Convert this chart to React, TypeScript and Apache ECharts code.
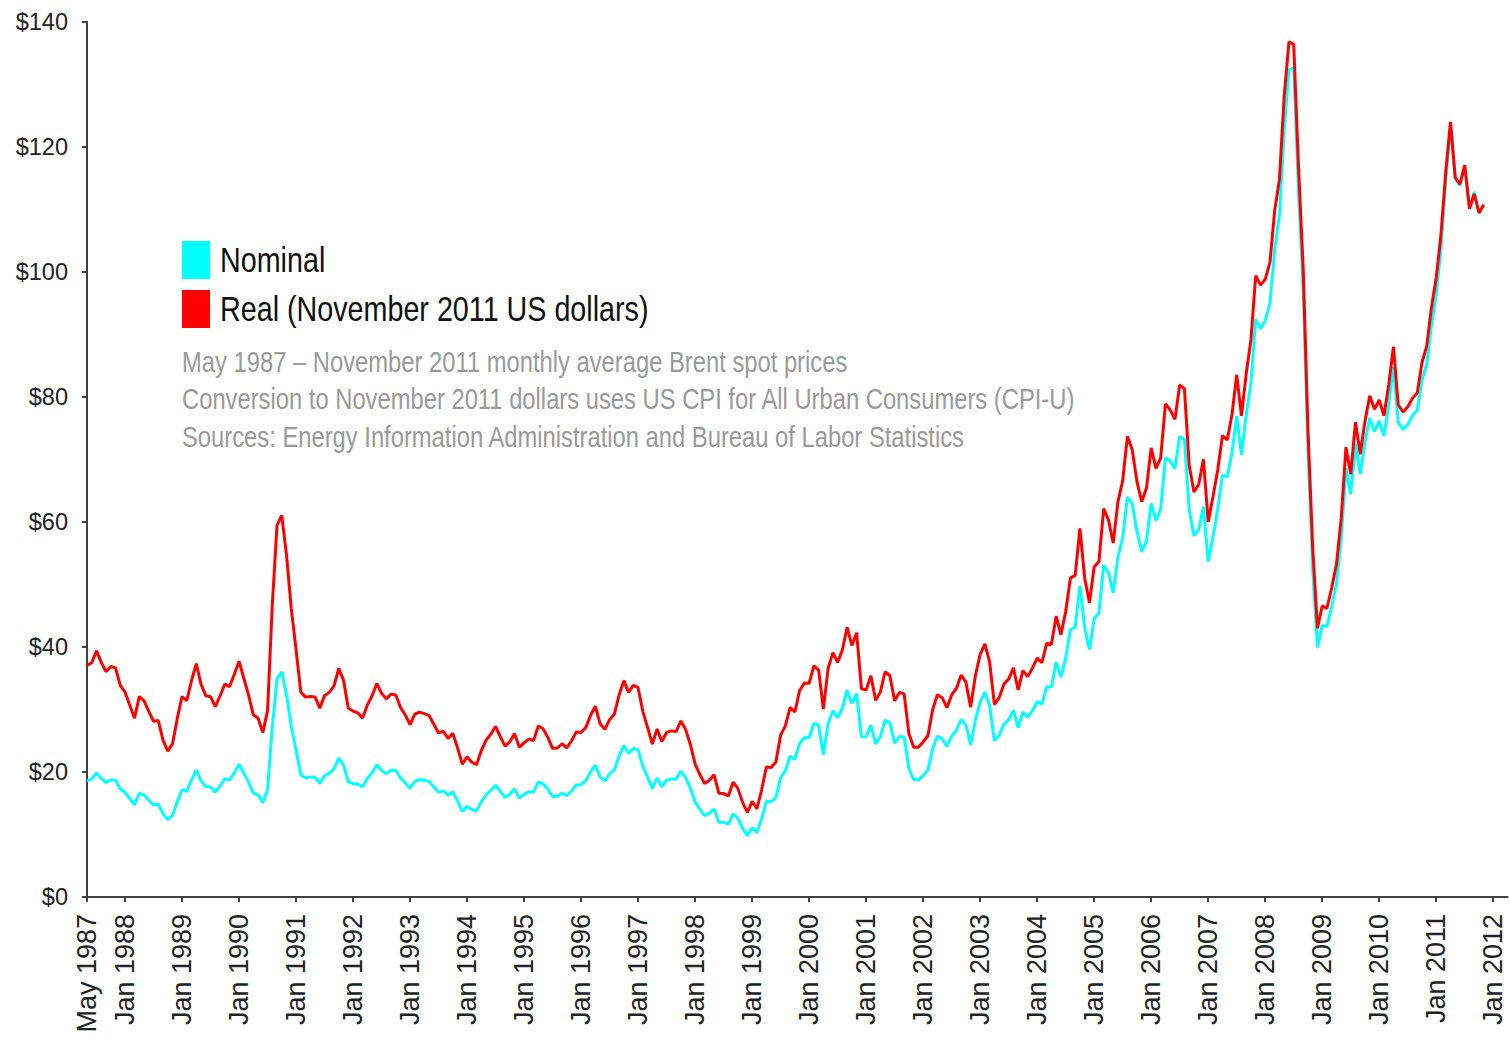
import React, { useEffect, useRef } from "react";
import * as echarts from "echarts";

const MONTHS = ["Jan","Feb","Mar","Apr","May","Jun","Jul","Aug","Sep","Oct","Nov","Dec"];
const START_YEAR = 1987;
const START_MONTH = 4; // May
const CATEGORY_COUNT = 300;

// Nominal Brent monthly average, USD/bbl (May 1987 – Nov 2011)
const nominal1987 = [18.58, 18.86, 19.86, 18.98, 18.31, 18.76, 18.70, 17.27];
const nominal1988 = [16.76, 15.73, 14.73, 16.60, 16.31, 15.49, 14.73, 14.85, 13.30, 12.40, 13.02, 15.22];
const nominal1989 = [17.17, 16.89, 18.70, 20.32, 18.63, 17.67, 17.62, 16.77, 17.77, 18.91, 18.73, 19.84];
const nominal1990 = [21.25, 19.81, 18.39, 16.61, 16.35, 15.10, 17.17, 27.17, 34.90, 36.02, 32.32, 27.28];
const nominal1991 = [23.57, 19.54, 19.08, 19.18, 19.19, 18.17, 19.40, 19.77, 20.50, 22.21, 21.11, 18.41];
const nominal1992 = [18.16, 18.05, 17.63, 18.92, 19.89, 21.16, 20.25, 19.74, 20.27, 20.26, 19.04, 18.26];
const nominal1993 = [17.40, 18.50, 18.79, 18.67, 18.50, 17.64, 16.75, 16.98, 16.28, 16.86, 15.37, 13.68];
const nominal1994 = [14.50, 13.99, 13.77, 15.27, 16.35, 17.04, 17.90, 16.89, 15.94, 16.41, 17.30, 15.85];
const nominal1995 = [16.39, 16.86, 16.77, 18.38, 18.12, 17.22, 16.04, 16.11, 16.60, 16.20, 16.97, 17.92];
const nominal1996 = [17.97, 18.59, 20.01, 21.09, 19.19, 18.58, 19.69, 20.33, 22.54, 24.22, 22.96, 23.76];
const nominal1997 = [23.55, 20.94, 19.19, 17.34, 19.03, 17.64, 18.68, 18.89, 18.86, 20.12, 19.14, 17.40];
const nominal1998 = [15.20, 14.02, 13.02, 13.43, 14.07, 11.95, 11.94, 11.67, 13.28, 12.60, 10.98, 9.82];
const nominal1999 = [11.12, 10.27, 12.51, 15.29, 15.23, 15.86, 19.08, 20.22, 22.54, 22.01, 24.59, 25.47];
const nominal2000 = [25.51, 27.78, 27.49, 22.76, 27.74, 29.80, 28.68, 30.20, 33.14, 30.96, 32.55, 25.66];
const nominal2001 = [25.62, 27.50, 24.50, 25.66, 28.31, 27.85, 24.61, 25.68, 25.62, 20.54, 18.80, 18.71];
const nominal2002 = [19.42, 20.28, 23.70, 25.73, 25.35, 24.08, 25.74, 26.65, 28.40, 27.54, 24.34, 28.33];
const nominal2003 = [31.18, 32.77, 30.61, 25.00, 25.86, 27.65, 28.35, 29.89, 27.11, 29.61, 28.75, 29.81];
const nominal2004 = [31.28, 30.86, 33.63, 33.59, 37.57, 35.18, 38.22, 42.74, 43.20, 49.78, 43.11, 39.60];
const nominal2005 = [44.51, 45.48, 53.10, 51.88, 48.65, 54.35, 57.52, 63.98, 62.91, 58.54, 55.24, 56.86];
const nominal2006 = [62.99, 60.21, 62.06, 70.26, 69.78, 68.56, 73.67, 73.23, 61.96, 57.81, 58.76, 62.47];
const nominal2007 = [53.68, 57.56, 62.05, 67.49, 67.21, 71.05, 76.93, 70.76, 77.17, 82.34, 92.41, 90.93];
const nominal2008 = [92.18, 94.99, 103.64, 109.07, 122.80, 132.32, 132.72, 113.24, 97.23, 71.58, 52.45, 39.95];
const nominal2009 = [43.44, 43.32, 46.54, 50.18, 57.30, 68.61, 64.44, 72.51, 67.65, 72.77, 76.66, 74.46];
const nominal2010 = [76.17, 73.75, 78.83, 84.82, 75.95, 74.76, 75.58, 77.04, 77.84, 82.67, 85.28, 91.45];
const nominal2011 = [96.52, 103.72, 114.64, 123.26, 114.99, 113.83, 116.97, 110.22, 112.83, 109.55, 110.77];

// Real (November 2011 US dollars)
const real1987 = [37.03, 37.49, 39.38, 37.54, 36.05, 36.88, 36.65, 33.85];
const real1988 = [32.77, 30.67, 28.61, 32.07, 31.40, 29.69, 28.12, 28.23, 25.11, 23.34, 24.49, 28.57];
const real1989 = [32.07, 31.42, 34.60, 37.35, 34.04, 32.21, 32.05, 30.45, 32.16, 34.06, 33.66, 35.59];
const real1990 = [37.74, 35.00, 32.33, 29.15, 28.63, 26.30, 29.79, 46.71, 59.50, 61.05, 54.65, 46.13];
const real1991 = [39.62, 32.79, 31.98, 32.09, 32.01, 30.22, 32.22, 32.74, 33.80, 36.58, 34.66, 30.21];
const real1992 = [29.75, 29.46, 28.63, 30.69, 32.20, 34.15, 32.60, 31.70, 32.45, 32.31, 30.33, 29.11];
const real1993 = [27.60, 29.25, 29.59, 29.33, 29.03, 27.64, 26.25, 26.52, 25.38, 26.18, 23.85, 21.23];
const real1994 = [22.43, 21.57, 21.16, 23.44, 25.08, 26.05, 27.28, 25.64, 24.13, 24.83, 26.14, 23.95];
const real1995 = [24.67, 25.27, 25.05, 27.37, 26.93, 25.54, 23.79, 23.84, 24.52, 23.85, 25.00, 26.41];
const real1996 = [26.33, 27.14, 29.07, 30.52, 27.73, 26.83, 28.37, 29.23, 32.32, 34.61, 32.74, 33.88];
const real1997 = [33.49, 29.67, 27.13, 24.48, 26.89, 24.89, 26.34, 26.58, 26.46, 28.17, 26.82, 24.41];
const real1998 = [21.28, 19.59, 18.16, 18.69, 19.56, 16.59, 16.55, 16.16, 18.37, 17.38, 15.14, 13.55];
const real1999 = [15.31, 14.12, 17.15, 20.81, 20.73, 21.59, 25.89, 27.38, 30.36, 29.60, 33.05, 34.23];
const real2000 = [34.18, 37.00, 36.31, 30.07, 36.59, 39.10, 37.54, 39.53, 43.15, 40.25, 42.28, 33.36];
const real2001 = [33.10, 35.39, 31.46, 32.82, 36.04, 35.40, 31.38, 32.74, 32.51, 26.15, 23.97, 23.95];
const real2002 = [24.80, 25.80, 29.98, 32.37, 31.89, 30.29, 32.33, 33.37, 35.50, 34.37, 30.38, 35.44];
const real2003 = [38.82, 40.50, 37.59, 30.78, 31.89, 34.06, 34.87, 36.65, 33.13, 36.21, 35.25, 36.61];
const real2004 = [38.22, 37.49, 40.59, 40.41, 44.93, 41.97, 45.63, 51.03, 51.45, 58.99, 51.04, 47.08];
const real2005 = [52.79, 53.67, 62.13, 60.34, 56.63, 63.21, 66.61, 73.70, 71.59, 66.50, 63.25, 65.39];
const real2006 = [71.87, 68.58, 70.25, 78.90, 77.94, 76.44, 81.92, 81.29, 69.09, 64.81, 65.99, 70.03];
const real2007 = [60.01, 64.01, 68.32, 73.83, 73.12, 77.16, 83.55, 76.99, 83.73, 89.17, 99.43, 97.93];
const real2008 = [98.82, 101.54, 109.86, 114.85, 128.20, 136.82, 136.44, 116.98, 100.54, 74.73, 55.86, 42.99];
const real2009 = [46.57, 46.18, 49.52, 53.24, 60.62, 71.97, 67.66, 75.99, 70.83, 76.12, 80.19, 78.03];
const real2010 = [79.52, 77.00, 81.98, 88.04, 78.76, 77.60, 78.45, 79.81, 80.64, 85.48, 88.18, 94.38];
const real2011 = [99.13, 106.00, 116.02, 124.00, 115.10, 114.06, 117.09, 110.11, 112.49, 109.44, 110.77];

const nominalValues = [
  ...nominal1987, ...nominal1988, ...nominal1989, ...nominal1990, ...nominal1991,
  ...nominal1992, ...nominal1993, ...nominal1994, ...nominal1995, ...nominal1996,
  ...nominal1997, ...nominal1998, ...nominal1999, ...nominal2000, ...nominal2001,
  ...nominal2002, ...nominal2003, ...nominal2004, ...nominal2005, ...nominal2006,
  ...nominal2007, ...nominal2008, ...nominal2009, ...nominal2010, ...nominal2011,
];
const realValues = [
  ...real1987, ...real1988, ...real1989, ...real1990, ...real1991,
  ...real1992, ...real1993, ...real1994, ...real1995, ...real1996,
  ...real1997, ...real1998, ...real1999, ...real2000, ...real2001,
  ...real2002, ...real2003, ...real2004, ...real2005, ...real2006,
  ...real2007, ...real2008, ...real2009, ...real2010, ...real2011,
];

const legendNames = ["Nominal", "Real (November 2011 US dollars)"];
const noteLines = [
  "May 1987 \u2013 November 2011 monthly average Brent spot prices",
  "Conversion to November 2011 dollars uses US CPI for All Urban Consumers (CPI-U)",
  "Sources: Energy Information Administration and Bureau of Labor Statistics",
];

const categories: string[] = [];
for (let i = 0; i < CATEGORY_COUNT; i++) {
  const m = START_MONTH + i;
  categories.push(MONTHS[m % 12] + " " + (START_YEAR + Math.floor(m / 12)));
}
const showLabel = (idx: number) => idx === 0 || categories[idx].startsWith("Jan");

const SANS = "'Liberation Sans', Arial, sans-serif";
const NARROW_SCALE = 0.82;

export default function App() {
  const ref = useRef<HTMLDivElement>(null);
  useEffect(() => {
    document.body.style.margin = "0";
    const chart = echarts.init(ref.current!, null, { renderer: "svg" });
    chart.setOption({
      animation: false,
      backgroundColor: "#ffffff",
      grid: { left: 87, right: 2.5, top: 22, bottom: 151, containLabel: false },
      xAxis: {
        type: "category",
        data: categories,
        boundaryGap: false,
        axisLine: { show: true, lineStyle: { color: "#404040", width: 2 } },
        axisTick: { show: true, interval: (i: number) => showLabel(i), length: 5, lineStyle: { color: "#404040", width: 2 } },
        axisLabel: {
          interval: (i: number) => showLabel(i),
          rotate: 90,
          margin: 17,
          fontFamily: SANS,
          fontSize: 27,
          color: "#222222",
        },
        splitLine: { show: false },
      },
      yAxis: {
        type: "value",
        min: 0,
        max: 140,
        interval: 20,
        axisLine: { show: true, lineStyle: { color: "#404040", width: 2 } },
        axisTick: { show: true, length: 5, lineStyle: { color: "#404040", width: 2 } },
        axisLabel: {
          formatter: (v: number) => "$" + v,
          margin: 19,
          fontFamily: SANS,
          fontSize: 23.5,
          color: "#222222",
        },
        splitLine: { show: false },
      },
      series: [
        {
          name: legendNames[0],
          type: "line",
          data: nominalValues,
          showSymbol: false,
          lineStyle: { color: "#00FFFF", width: 3 },
          itemStyle: { color: "#00FFFF" },
        },
        {
          name: legendNames[1],
          type: "line",
          data: realValues,
          showSymbol: false,
          lineStyle: { color: "#FF0000", width: 3 },
          itemStyle: { color: "#FF0000" },
        },
      ],
      graphic: [
        { type: "rect", left: 182, top: 241, shape: { width: 28, height: 38 }, style: { fill: "#00FFFF" } },
        { type: "rect", left: 182, top: 290, shape: { width: 28, height: 38 }, style: { fill: "#FF0000" } },
        { type: "text", x: 220, y: 260, scaleX: NARROW_SCALE, style: { text: legendNames[0], font: `35px ${SANS}`, fill: "#111111", textVerticalAlign: "middle" } },
        { type: "text", x: 220, y: 309, scaleX: NARROW_SCALE, style: { text: legendNames[1], font: `35px ${SANS}`, fill: "#111111", textVerticalAlign: "middle" } },
        ...noteLines.map((t, i) => ({
          type: "text",
          x: 182,
          y: 362 + i * 37.5,
          scaleX: NARROW_SCALE,
          style: { text: t, font: `29px ${SANS}`, fill: "#9a9a9a", textVerticalAlign: "middle" },
        })),
      ],
    });
    return () => chart.dispose();
  }, []);
  return <div ref={ref} style={{ width: 1510, height: 1048 }} />;
}
